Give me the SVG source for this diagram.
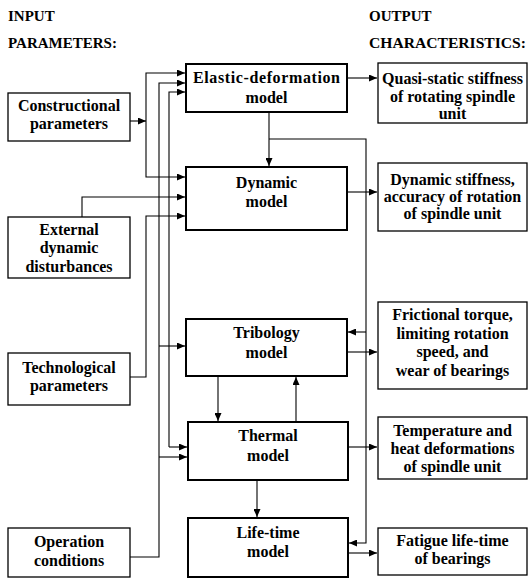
<svg xmlns="http://www.w3.org/2000/svg" width="528" height="579" viewBox="0 0 528 579">
<defs>
<marker id="ah" markerUnits="userSpaceOnUse" markerWidth="8" markerHeight="7" refX="8" refY="3.5" orient="auto">
<path d="M0,0 L8,3.5 L0,7 z" fill="#000"/>
</marker>
</defs>
<style>
text{font-family:"Liberation Serif","Times New Roman",serif;font-weight:bold;fill:#000}
.hd{font-size:15px}
.t{font-size:16px;text-anchor:middle}
.model{fill:#fff;stroke:#000;stroke-width:2}
.box{fill:#fff;stroke:#000;stroke-width:1.3}
.c path{fill:none;stroke:#000;stroke-width:1.1}
.c .a{marker-end:url(#ah)}
</style>
<rect width="528" height="579" fill="#fff"/>
<g id="headers">
<text class="hd" x="8" y="21">INPUT</text>
<text class="hd" x="8" y="48">PARAMETERS:</text>
<text class="hd" x="369" y="21">OUTPUT</text>
<text class="hd" x="369" y="48" textLength="157" lengthAdjust="spacingAndGlyphs">CHARACTERISTICS:</text>
</g>
<g class="c" id="connectors">
<path class="a" d="M130,121 H146"/>
<path class="a" d="M146,121 V73 H185"/>
<path class="a" d="M146,121 V177 H185"/>
<path class="a" d="M130,557 H159 V83 H185"/>
<path class="a" d="M159,346 H185"/>
<path class="a" d="M159,457 H187"/>
<path class="a" d="M169,447 V92 H185"/>
<path class="a" d="M169,447 H187"/>
<path class="a" d="M82,217 V197 H185"/>
<path class="a" d="M130,377 H146 V216 H185"/>
<path class="a" d="M269,112 V166"/>
<path class="a" d="M269,139 H366 V543 H349"/>
<path class="a" d="M366,332 H348"/>
<path class="a" d="M347,78 H377"/>
<path class="a" d="M347,192 H377"/>
<path class="a" d="M347,352 H377"/>
<path class="a" d="M348,447 H377"/>
<path class="a" d="M348,553 H377"/>
<path class="a" d="M218,376 V421"/>
<path class="a" d="M296,422 V377"/>
<path class="a" d="M257,480 V517"/>
</g>
<g id="constructional">
<rect class="box" x="8" y="93" width="122" height="48"/>
<text class="t" x="69" y="111">Constructional</text>
<text class="t" x="69" y="129">parameters</text>
</g>
<g id="external">
<rect class="box" x="8" y="217" width="122" height="61"/>
<text class="t" x="69" y="235">External</text>
<text class="t" x="69" y="253">dynamic</text>
<text class="t" x="69" y="272">disturbances</text>
</g>
<g id="technological">
<rect class="box" x="8" y="353" width="122" height="52"/>
<text class="t" x="69" y="373">Technological</text>
<text class="t" x="69" y="391">parameters</text>
</g>
<g id="operation">
<rect class="box" x="8" y="528" width="122" height="49"/>
<text class="t" x="69" y="547">Operation</text>
<text class="t" x="69" y="566">conditions</text>
</g>
<g id="elastic">
<rect class="model" x="186" y="64" width="161" height="48"/>
<text class="t" x="266.5" y="83" textLength="147" lengthAdjust="spacing">Elastic-deformation</text>
<text class="t" x="266.5" y="103">model</text>
</g>
<g id="dynamic">
<rect class="model" x="186" y="167" width="161" height="63"/>
<text class="t" x="266.5" y="188">Dynamic</text>
<text class="t" x="266.5" y="207">model</text>
</g>
<g id="tribology">
<rect class="model" x="186" y="319" width="161" height="57"/>
<text class="t" x="266.5" y="338">Tribology</text>
<text class="t" x="266.5" y="358">model</text>
</g>
<g id="thermal">
<rect class="model" x="188" y="422" width="160" height="58"/>
<text class="t" x="268" y="441">Thermal</text>
<text class="t" x="268" y="461">model</text>
</g>
<g id="lifetime">
<rect class="model" x="188" y="518" width="160" height="59"/>
<text class="t" x="268" y="538">Life-time</text>
<text class="t" x="268" y="557">model</text>
</g>
<g id="quasi">
<rect class="box" x="378" y="63" width="149" height="60"/>
<text class="t" x="452.5" y="84">Quasi-static stiffness</text>
<text class="t" x="452.5" y="102">of rotating spindle</text>
<text class="t" x="452.5" y="119">unit</text>
</g>
<g id="dynstiff">
<rect class="box" x="378" y="163" width="149" height="68"/>
<text class="t" x="452.5" y="185">Dynamic stiffness,</text>
<text class="t" x="452.5" y="202">accuracy of rotation</text>
<text class="t" x="452.5" y="219">of spindle unit</text>
</g>
<g id="frictional">
<rect class="box" x="378" y="302" width="149" height="87"/>
<text class="t" x="452.5" y="320">Frictional torque,</text>
<text class="t" x="452.5" y="339">limiting rotation</text>
<text class="t" x="452.5" y="357">speed, and</text>
<text class="t" x="452.5" y="376">wear of bearings</text>
</g>
<g id="temperature">
<rect class="box" x="378" y="417" width="149" height="62"/>
<text class="t" x="452.5" y="436">Temperature and</text>
<text class="t" x="452.5" y="454">heat deformations</text>
<text class="t" x="452.5" y="472">of spindle unit</text>
</g>
<g id="fatigue">
<rect class="box" x="378" y="528" width="149" height="47"/>
<text class="t" x="452.5" y="546">Fatigue life-time</text>
<text class="t" x="452.5" y="564">of bearings</text>
</g>
</svg>
